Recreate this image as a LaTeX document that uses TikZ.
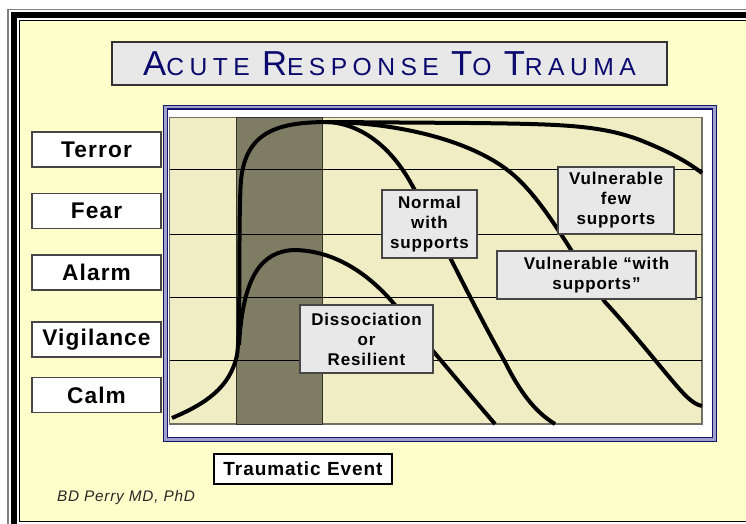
\documentclass[tikz,border=0pt]{standalone}
\usepackage{fontspec}
\setmainfont{Liberation Sans}
\newfontfamily\titlefont[LetterSpace=22]{Liberation Sans}
\newfontfamily\boxfont[LetterSpace=5]{Liberation Sans}
\newcommand{\tcap}[1]{{\fontsize{26}{30}\selectfont #1}}

\begin{document}
\begin{tikzpicture}[x=0.75pt,y=0.75pt,yscale=-1,xscale=1,
  levelbox/.style={draw={rgb, 255:red, 70; green, 70; blue, 70 }, fill=white, line width=0.9, inner sep=0pt, minimum width=96.75pt, minimum height=26.25pt, font=\boxfont\bfseries\fontsize{17}{20}\selectfont},
  notebox/.style={draw={rgb, 255:red, 70; green, 70; blue, 70 }, fill={rgb, 255:red, 232; green, 232; blue, 232 }, line width=0.9, inner sep=0pt, align=center, font=\boxfont\bfseries\fontsize{12.75}{15}\selectfont},
  curve/.style={line width=3pt}]
\useasboundingbox (0,0) rectangle (746,524);
\clip (0,0) rectangle (746,524);
% Shape: Rectangle (page)
\fill [white] (0,0) rectangle (746,524);
% Shape: Rectangle (outer frame)
\draw [color={rgb, 255:red, 128; green, 128; blue, 128 }, line width=1.1] (8,9.5) rectangle (770,550);
\draw [line width=4.5] (14,15.5) rectangle (764,526.5);
\draw [line width=1.1, fill={rgb, 255:red, 255; green, 255; blue, 204 }] (19.5,20.5) rectangle (760,521.5);

% Title
\node [draw={rgb, 255:red, 50; green, 50; blue, 50 }, fill={rgb, 255:red, 232; green, 232; blue, 232 }, line width=1.1, inner sep=0pt, minimum width=416.25pt, minimum height=32.25pt, text={rgb, 255:red, 10; green, 10; blue, 110 }, font=\titlefont\fontsize{18.5}{22}\selectfont] (title) at (389.5,63.5) {\tcap{A}CUTE \tcap{R}ESPONSE \tcap{T}O \tcap{T}RAUMA};

% Shape: Rectangle (chart frame)
\draw [color={rgb, 255:red, 20; green, 20; blue, 110 }, fill={rgb, 255:red, 160; green, 160; blue, 205 }, line width=1.1] (163.5,105.5) rectangle (716.5,441.5);
\draw [color={rgb, 255:red, 20; green, 20; blue, 110 }, fill=white, line width=0.9] (167.5,109) rectangle (712.5,437.5);
% Shape: Rectangle (plot area)
\draw [color={rgb, 255:red, 112; green, 112; blue, 100 }, fill={rgb, 255:red, 240; green, 237; blue, 196 }, line width=1.1] (169.5,117.5) rectangle (702,424);
% Shape: Rectangle (event band)
\draw [color={rgb, 255:red, 50; green, 50; blue, 40 }, fill={rgb, 255:red, 126; green, 125; blue, 100 }, line width=0.75] (236,117.5) rectangle (322,424);
% Straight Lines
\draw [line width=0.75] (170,170) -- (702,170) ;
\draw [line width=0.75] (170,234) -- (702,234) ;
\draw [line width=0.75] (170,297) -- (702,297) ;
\draw [line width=0.75] (170,360) -- (702,360) ;

% Curve Lines (rise)
\draw [curve] (172,418) .. controls (205,404) and (230,388) .. (237,355) .. controls (241,330) and (238,220) .. (241,180) .. controls (246,130) and (280,122) .. (330,122) ;
% Curve Lines (vulnerable few supports)
\draw [curve] (328,122) -- (470,123) .. controls (560,124) and (600,125) .. (640,140) .. controls (665,150) and (685,160) .. (702,173) ;
% Curve Lines (vulnerable with supports)
\draw [curve] (335,122) .. controls (400,124) and (470,140) .. (510,172) .. controls (545,200) and (575,260) .. (605,302) .. controls (640,340) and (672,382) .. (685,395) .. controls (692,402) and (697,405) .. (702,406) ;
% Curve Lines (normal with supports)
\draw [curve] (328,122) .. controls (360,124) and (390,145) .. (412,185) .. controls (440,235) and (470,300) .. (505,362) .. controls (520,392) and (535,412) .. (555,424) ;
% Curve Lines (dissociation)
\draw [curve] (239,345) .. controls (243,275) and (262,252) .. (293,250) .. controls (335,250) and (370,275) .. (395,305) .. controls (415,330) and (470,395) .. (495,424) ;

% Level labels
\node [levelbox] (terror) at (96.5,149.5) {Terror};
\node [levelbox] (fear) at (96.5,211) {Fear};
\node [levelbox] (alarm) at (96.5,272.5) {Alarm};
\node [levelbox] (vigilance) at (96.5,339.5) {Vigilance};
\node [levelbox] (calm) at (96.5,395) {Calm};

% Curve notes
\node [notebox, minimum width=71.25pt, minimum height=51pt] (normal) at (429.5,224) {Normal\\with\\supports};
\node [notebox, minimum width=87pt, minimum height=50.25pt] (fewsup) at (616,200.5) {Vulnerable\\few\\supports};
\node [notebox, minimum width=149.25pt, minimum height=36pt] (withsup) at (596.5,275) {Vulnerable “with\\supports”};
\node [notebox, minimum width=99.75pt, minimum height=51pt] (dissoc) at (366.5,339) {Dissociation\\or\\Resilient};

\node [levelbox, draw=black, minimum width=133.5pt, minimum height=22.5pt, font=\boxfont\bfseries\fontsize{14.25}{17}\selectfont] (event) at (303,469) {Traumatic Event};
\node [text={rgb, 255:red, 40; green, 40; blue, 40 }, font=\boxfont\itshape\fontsize{11.5}{13}\selectfont] (author) at (126,498) {BD Perry MD, PhD};

\end{tikzpicture}
\end{document}
